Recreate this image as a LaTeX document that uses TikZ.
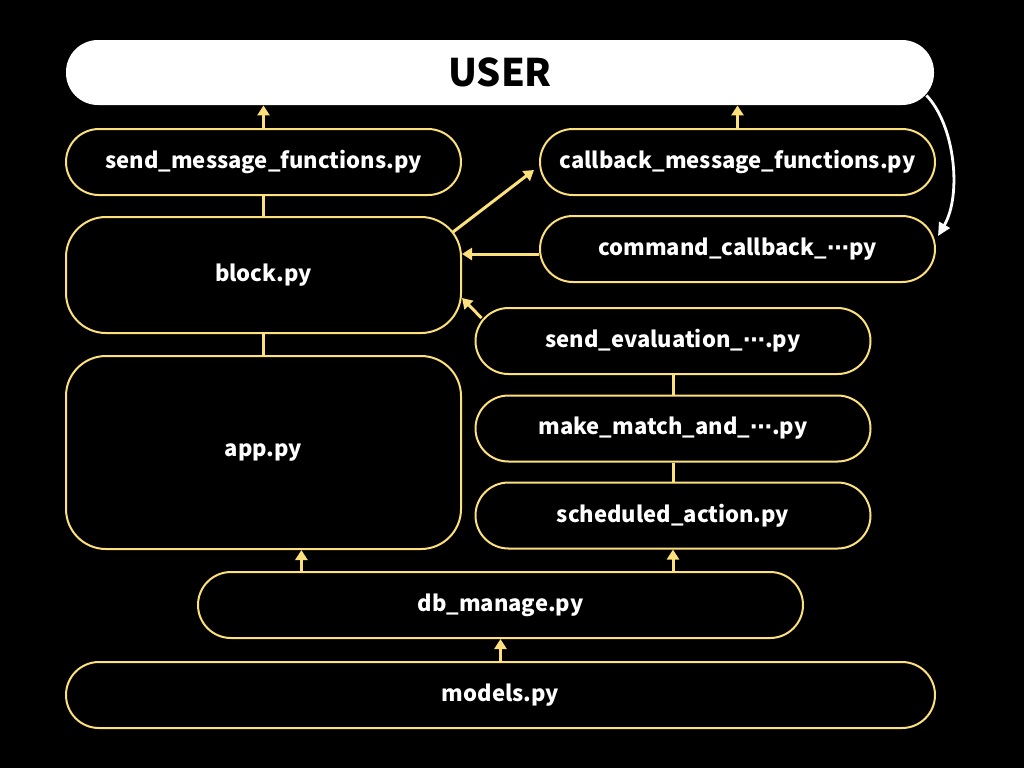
\documentclass[tikz,border=0pt]{standalone}
\usepackage{fontspec}
\setmainfont{Noto Sans CJK KR}
\newfontfamily\dotsfont{DejaVu Sans}
\usepackage{tikz}
\usetikzlibrary{calc,arrows.meta}
\definecolor{bg}{HTML}{000000}
\definecolor{text}{HTML}{FFFFFF}
\definecolor{gold}{HTML}{FBE07C}
\newcommand{\midell}{{\dotsfont ⋯}}
\tikzset{
  mod/.style={draw=gold, line width=1pt, rounded corners=16.5pt, text=text,
    font=\bfseries\fontsize{11}{13}\selectfont, inner sep=0pt,
    minimum width=197.5pt, minimum height=33pt},
  big/.style={mod, rounded corners=20pt},
  usr/.style={fill=text, rounded corners=16pt, text=bg, inner sep=0pt,
    font=\bfseries\fontsize{19}{23}\selectfont, minimum width=434pt, minimum height=32.5pt},
  link/.style={draw=gold, line width=1.5pt},
  arr/.style={link, -{Triangle[length=5pt,width=6pt]}},
  warr/.style={draw=text, line width=1.4pt, -{Triangle[length=6.5pt,width=6pt]}},
}
\begin{document}
\begin{tikzpicture}[x=0.5pt,y=-0.5pt]
  \fill[bg] (0,0) rectangle (1024,768);
  \useasboundingbox (0,0) rectangle (1024,768);
  % left column
  \node[usr] (user) at (500,72.5) {USER};
  \node[mod] (sendmsg) at (263.5,162) {send\_message\_functions.py};
  \node[big, minimum height=58pt] (block) at (263.5,275) {block.py};
  \node[big, minimum height=96.5pt] (app) at (263.5,452.5) {app.py};
  % right column
  \node[mod] (cbmsg) at (737.5,162) {callback\_message\_functions.py};
  \node[mod] (cmdcb) at (737.5,249) {command\_callback\_\midell py};
  \node[mod] (seval) at (673,341) {send\_evaluation\_\midell.py};
  \node[mod] (match) at (673,428.5) {make\_match\_and\_\midell.py};
  \node[mod] (sched) at (673,515.5) {scheduled\_action.py};
  % bottom
  \node[mod, minimum width=302.5pt] (dbm) at (500.5,605) {db\_manage.py};
  \node[mod, minimum width=434.5pt] (models) at (500.5,695) {models.py};

  \coordinate (dbapp) at ($(dbm.north west)!0.172!(dbm.north east)$);
  \draw[arr] (sendmsg.north) -- (user.south -| sendmsg.north);
  \draw[arr] (cbmsg.north) -- (user.south -| cbmsg.north);
  \draw[link] (sendmsg.south) -- (block.north);
  \draw[link] (block.south) -- (app.north);
  \draw[arr] ($(block.north east)+(-9,16)$) -- ($(cbmsg.west)+(-5,8)$);
  \draw[arr] ([yshift=-2.5pt]cmdcb.west) -- ([yshift=-2.5pt]cmdcb.west -| block.east);
  \draw[arr] ($(seval.north west)+(7,11)$) -- ($(block.east)+(0,23)$);
  \draw[link] (seval.south) -- (match.north);
  \draw[link] (match.south) -- (sched.north);
  \draw[arr] (dbapp) -- (dbapp |- app.south);
  \draw[arr] (dbm.north -| sched.south) -- (sched.south);
  \draw[arr] (models.north) -- (dbm.south);
  \draw[warr] ($(user.south east)+(-8,-10)$) .. controls (955,125) and (962,195) .. ($(cmdcb.north east)+(2,21)$);
\end{tikzpicture}
\end{document}
